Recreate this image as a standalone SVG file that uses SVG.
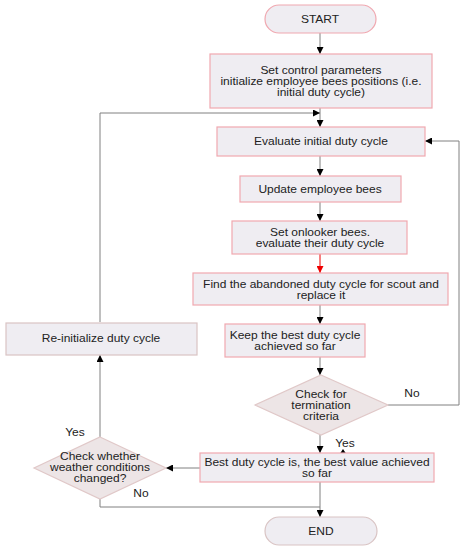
<svg xmlns="http://www.w3.org/2000/svg" width="466" height="550" viewBox="0 0 466 550">
<defs>
<marker id="ah" viewBox="0 0 10 10" refX="10" refY="5" markerWidth="7" markerHeight="7" markerUnits="userSpaceOnUse" orient="auto">
<path d="M0,0 L10,5 L0,10 z" fill="#000"/>
</marker>
<marker id="ahr" viewBox="0 0 10 10" refX="10" refY="5" markerWidth="7" markerHeight="7" markerUnits="userSpaceOnUse" orient="auto">
<path d="M0,0 L10,5 L0,10 z" fill="#e00"/>
</marker>
</defs>
<style>
text{font-family:"Liberation Sans",Arial,sans-serif;font-size:10px;fill:#222;text-anchor:middle;dominant-baseline:central}
.box{fill:#efedf2;stroke:#f0a8b0;stroke-width:1.2}
.box2{fill:#efedf2;stroke:#d9c4c4;stroke-width:1.2}
.dia{fill:#ede5e6;stroke:#e0c8c8;stroke-width:1.2}
.ln{fill:none;stroke:#808080;stroke-width:1}
.ar{fill:none;stroke:#808080;stroke-width:1;marker-end:url(#ah)}
</style>
<rect width="466" height="550" fill="#fff"/>
<g id="connectors">
<path class="ar" d="M320,33 V54"/>
<path class="ln" d="M320,108 V113"/>
<path class="ar" d="M320,113 V127"/>
<path class="ar" d="M100,322 V113 H320"/>
<path class="ar" d="M320,156 V176"/>
<path class="ar" d="M320,202 V221"/>
<path d="M320,254 V273" fill="none" stroke="#e00" stroke-width="1" marker-end="url(#ahr)"/>
<path class="ar" d="M320,305 V324"/>
<path class="ar" d="M320,357 V375"/>
<path class="ar" d="M388,405 H459 V141 H425"/>
<path class="ar" d="M320,435 V453"/>
<path class="ar" d="M200,468 H166"/>
<path class="ar" d="M100,437 V355"/>
<path class="ln" d="M100,499 V507 H320"/>
<path class="ar" d="M320,482 V517"/>
<path d="M339,455 L343,449 L347,455 z" fill="#000"/>
</g>
<g id="start">
<rect x="265" y="5" width="111" height="28" rx="14" class="box"/>
<g transform="translate(320 0) scale(1.2 1)"><text x="0" y="19">START</text></g>
</g>
<g id="init">
<rect x="210" y="54" width="222" height="54" class="box"/>
<g transform="translate(321 0) scale(1.2 1)">
<text x="0" y="70">Set control parameters</text>
<text x="0" y="81">initialize employee bees positions (i.e.</text>
<text x="0" y="92">initial duty cycle)</text>
</g>
</g>
<g id="evaluate">
<rect x="217" y="127" width="208" height="29" class="box"/>
<g transform="translate(321 0) scale(1.2 1)"><text x="0" y="141">Evaluate initial duty cycle</text></g>
</g>
<g id="update">
<rect x="240" y="176" width="161" height="26" class="box"/>
<g transform="translate(320 0) scale(1.2 1)"><text x="0" y="189">Update employee bees</text></g>
</g>
<g id="onlooker">
<rect x="232" y="221" width="175" height="33" class="box"/>
<g transform="translate(320 0) scale(1.2 1)">
<text x="0" y="232">Set onlooker bees.</text>
<text x="0" y="243">evaluate their duty cycle</text>
</g>
</g>
<g id="find">
<rect x="193" y="273" width="255" height="32" class="box"/>
<g transform="translate(321 0) scale(1.2 1)">
<text x="0" y="284">Find the abandoned duty cycle for scout and</text>
<text x="0" y="295">replace it</text>
</g>
</g>
<g id="keep">
<rect x="225" y="324" width="140" height="33" class="box"/>
<g transform="translate(295 0) scale(1.2 1)">
<text x="0" y="335">Keep the best duty cycle</text>
<text x="0" y="346">achieved so far</text>
</g>
</g>
<g id="termination">
<path d="M321,375 L388,405 L321,435 L255,405 z" class="dia"/>
<g transform="translate(321 0) scale(1.2 1)">
<text x="0" y="394">Check for</text>
<text x="0" y="405">termination</text>
<text x="0" y="416">criteria</text>
</g>
<g transform="translate(412 0) scale(1.2 1)"><text x="0" y="393">No</text></g>
<g transform="translate(345 0) scale(1.2 1)"><text x="0" y="443">Yes</text></g>
</g>
<g id="best">
<rect x="200" y="453" width="234" height="29" class="box"/>
<g transform="translate(317 0) scale(1.2 1)">
<text x="0" y="462">Best duty cycle is, the best value achieved</text>
<text x="0" y="473">so far</text>
</g>
</g>
<g id="reinit">
<rect x="6" y="323" width="191" height="32" class="box2"/>
<g transform="translate(101 0) scale(1.2 1)"><text x="0" y="338">Re-initialize duty cycle</text></g>
</g>
<g id="weather">
<path d="M100,437 L166,468 L100,499 L34,468 z" class="dia"/>
<g transform="translate(100 0) scale(1.2 1)">
<text x="0" y="456">Check whether</text>
<text x="0" y="467">weather conditions</text>
<text x="0" y="478">changed?</text>
</g>
<g transform="translate(75 0) scale(1.2 1)"><text x="0" y="432">Yes</text></g>
<g transform="translate(141 0) scale(1.2 1)"><text x="0" y="493">No</text></g>
</g>
<g id="end">
<rect x="265" y="517" width="112" height="28" rx="14" class="box2"/>
<g transform="translate(321 0) scale(1.2 1)"><text x="0" y="531">END</text></g>
</g>
</svg>
